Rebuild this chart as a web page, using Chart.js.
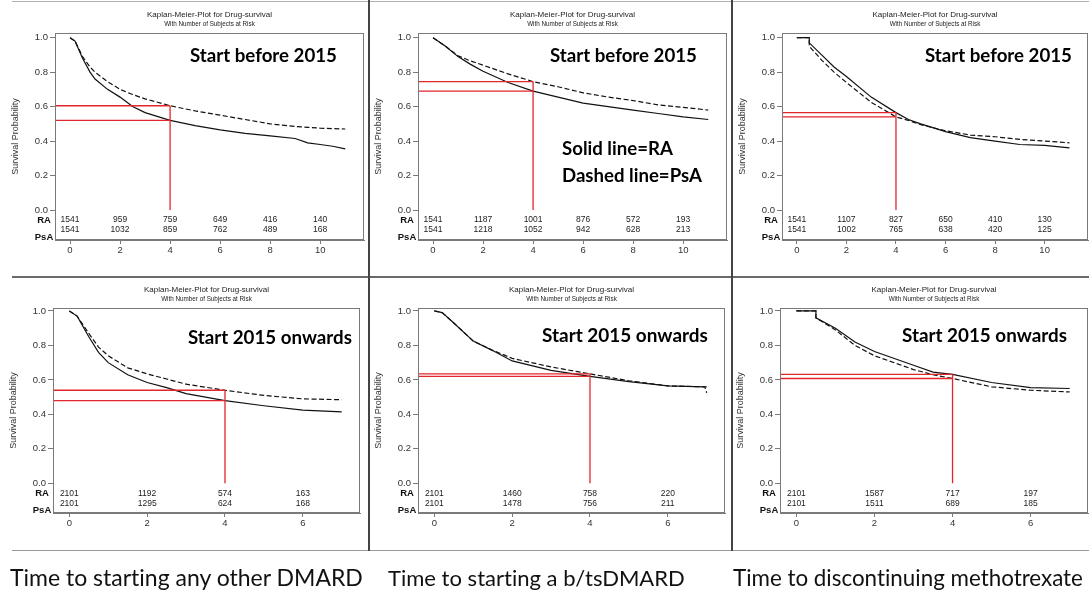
<!DOCTYPE html>
<html><head><meta charset="utf-8">
<script src="https://cdn.jsdelivr.net/npm/chart.js@4.4.1/dist/chart.umd.min.js"></script>
<style>
html,body{margin:0;padding:0;background:#fff;width:1089px;height:594px;overflow:hidden;position:relative;font-family:"Liberation Sans",Arial,sans-serif;}
canvas{position:absolute;}
.ttl{position:absolute;white-space:nowrap;color:#222;transform:translate(-50%,-50%);line-height:1;}
.big{position:absolute;white-space:nowrap;font-family:Lato,"Open Sans",sans-serif;font-weight:700;color:#000;line-height:1;transform:translateY(-50%);font-variant-ligatures:none;}
.cap{position:absolute;white-space:nowrap;font-family:Lato,"Open Sans",sans-serif;color:#111;line-height:1;transform:translateY(-50%);font-variant-ligatures:none;}
.sep{position:absolute;}
</style></head><body>
<script>
// ---------------- DATA ----------------
const xTicksTop = [0, 2, 4, 6, 8, 10];
const xTicksBottom = [0, 2, 4, 6];
const yTicks = [0, 0.2, 0.4, 0.6, 0.8, 1.0];
const riskTimesTop = [0, 2, 4, 6, 8, 10];
const riskTimesBottom = [0, 2, 4, 6];
const markTime = 4;

// Time to starting any other DMARD, start before 2015
const p1Time = [0, 0.2, 0.5, 0.8, 1, 1.5, 2, 2.5, 3, 4, 5, 6, 7, 8, 9, 9.5, 10, 10.5, 11];
const p1RA   = [1.0, 0.98, 0.88, 0.80, 0.76, 0.70, 0.655, 0.60, 0.565, 0.52, 0.49, 0.465, 0.445, 0.43, 0.415, 0.39, 0.38, 0.37, 0.355];
const p1PsA  = [1.0, 0.98, 0.89, 0.83, 0.80, 0.745, 0.70, 0.67, 0.645, 0.605, 0.575, 0.55, 0.525, 0.50, 0.485, 0.48, 0.475, 0.472, 0.47];
const p1RiskRA  = [1541, 959, 759, 649, 416, 140];
const p1RiskPsA = [1541, 1032, 859, 762, 489, 168];

// Time to starting a b/tsDMARD, start before 2015
const p2Time = [0, 0.5, 1, 1.5, 2, 3, 4, 5, 6, 7, 8, 9, 10, 11];
const p2RA   = [1.0, 0.95, 0.89, 0.845, 0.805, 0.74, 0.69, 0.655, 0.62, 0.60, 0.58, 0.56, 0.54, 0.525];
const p2PsA  = [1.0, 0.95, 0.895, 0.865, 0.84, 0.79, 0.745, 0.715, 0.68, 0.655, 0.635, 0.61, 0.595, 0.58];
const p2RiskRA  = [1541, 1187, 1001, 876, 572, 193];
const p2RiskPsA = [1541, 1218, 1052, 942, 628, 213];

// Time to discontinuing methotrexate, start before 2015
const p3Time = [0, 0.5, 0.5, 1, 1.5, 2, 3, 4, 4.5, 5, 6, 7, 8, 9, 10, 11];
const p3RA   = [1.0, 1.0, 0.97, 0.90, 0.83, 0.775, 0.655, 0.565, 0.525, 0.50, 0.455, 0.42, 0.40, 0.38, 0.375, 0.36];
const p3PsA  = [1.0, 1.0, 0.95, 0.87, 0.80, 0.74, 0.625, 0.54, 0.52, 0.495, 0.46, 0.435, 0.425, 0.41, 0.40, 0.39];
const p3RiskRA  = [1541, 1107, 827, 650, 410, 130];
const p3RiskPsA = [1541, 1002, 765, 638, 420, 125];

// Time to starting any other DMARD, start 2015 onwards
const p4Time = [0, 0.2, 0.5, 0.75, 1, 1.5, 2, 2.5, 3, 4, 5, 6, 7];
const p4RA   = [1.0, 0.97, 0.85, 0.76, 0.70, 0.63, 0.585, 0.555, 0.52, 0.48, 0.45, 0.425, 0.415];
const p4PsA  = [1.0, 0.97, 0.87, 0.79, 0.74, 0.67, 0.635, 0.605, 0.575, 0.54, 0.51, 0.49, 0.485];
const p4RiskRA  = [2101, 1192, 574, 163];
const p4RiskPsA = [2101, 1295, 624, 168];

// Time to starting a b/tsDMARD, start 2015 onwards
const p5Time = [0, 0.2, 0.5, 1, 1.5, 2, 3, 4, 5, 6, 6.95, 7.0];
const p5RA   = [1.0, 0.99, 0.93, 0.825, 0.77, 0.71, 0.655, 0.62, 0.59, 0.565, 0.56, 0.56];
const p5PsA  = [1.0, 0.99, 0.93, 0.825, 0.772, 0.725, 0.675, 0.635, 0.595, 0.565, 0.56, 0.525];
const p5RiskRA  = [2101, 1460, 758, 220];
const p5RiskPsA = [2101, 1478, 756, 211];

// Time to discontinuing methotrexate, start 2015 onwards
const p6Time = [0, 0.5, 0.5, 1, 1.5, 2, 3, 3.5, 4, 5, 6, 7];
const p6RA   = [1.0, 1.0, 0.96, 0.90, 0.82, 0.765, 0.685, 0.645, 0.632, 0.585, 0.555, 0.55];
const p6PsA  = [1.0, 1.0, 0.96, 0.89, 0.80, 0.74, 0.66, 0.63, 0.608, 0.56, 0.54, 0.53];
const p6RiskRA  = [2101, 1587, 717, 197];
const p6RiskPsA = [2101, 1511, 689, 185];

const panelTitle = 'Kaplan-Meier-Plot for Drug-survival';
const panelSubtitle = 'With Number of Subjects at Risk';
const yAxisTitle = 'Survival Probability';
const groupLabels = ['RA', 'PsA'];
const periodLabels = ['Start before 2015', 'Start 2015 onwards'];
const outcomeLabels = ['Time to starting any other DMARD', 'Time to starting a b/tsDMARD', 'Time to discontinuing methotrexate'];
const legendNotes = ['Solid line=RA', 'Dashed line=PsA'];

// ---------------- LAYOUT ----------------
const panels = [
  {box:[55,33,364,240],  xr:[-0.6,11.75], yr:[-0.174,1.027], t:p1Time, ra:p1RA, psa:p1PsA, rra:p1RiskRA, rpsa:p1RiskPsA, rt:riskTimesTop, xt:xTicksTop, note:[190,337,55], period:0},
  {box:[418,33,727,240], xr:[-0.6,11.75], yr:[-0.174,1.027], t:p2Time, ra:p2RA, psa:p2PsA, rra:p2RiskRA, rpsa:p2RiskPsA, rt:riskTimesTop, xt:xTicksTop, note:[550,697,55], period:0},
  {box:[782,33,1088,240],xr:[-0.6,11.75], yr:[-0.174,1.027], t:p3Time, ra:p3RA, psa:p3PsA, rra:p3RiskRA, rpsa:p3RiskPsA, rt:riskTimesTop, xt:xTicksTop, note:[925,1072,55], period:0},
  {box:[53,308,360,513], xr:[-0.42,7.47], yr:[-0.172,1.017], t:p4Time, ra:p4RA, psa:p4PsA, rra:p4RiskRA, rpsa:p4RiskPsA, rt:riskTimesBottom, xt:xTicksBottom, note:[188,352,337], period:1},
  {box:[418,308,725,513],xr:[-0.42,7.47], yr:[-0.172,1.017], t:p5Time, ra:p5RA, psa:p5PsA, rra:p5RiskRA, rpsa:p5RiskPsA, rt:riskTimesBottom, xt:xTicksBottom, note:[542,708,335], period:1},
  {box:[780,308,1088,513],xr:[-0.42,7.47], yr:[-0.172,1.017], t:p6Time, ra:p6RA, psa:p6PsA, rra:p6RiskRA, rpsa:p6RiskPsA, rt:riskTimesBottom, xt:xTicksBottom, note:[902,1067,335], period:1}
];
const AXW = 55, PADT = 33, PADR = 4, AXH = 37;

function addDiv(cls, text, css) {
  const d = document.createElement('div');
  d.className = cls; d.textContent = text;
  Object.assign(d.style, css);
  document.body.appendChild(d);
  return d;
}
function fitWidth(el, target) {
  el.style.fontSize = '20px';
  const w = el.getBoundingClientRect().width;
  const fs = 20 * target / w;
  el.style.fontSize = fs + 'px';
  return fs;
}
function line(x, y, w, h, c) {
  addDiv('sep', '', {left:x+'px', top:y+'px', width:w+'px', height:h+'px', background:c});
}

// separators
line(12, 1, 1077, 1, '#b0b0b0');
line(12, 276, 1077, 2, '#6a6a6a');
line(12, 550, 1077, 1, '#9a9a9a');
line(368, 0, 2, 551, '#444');
line(731, 0, 2, 551, '#444');

Chart.defaults.font.family = '"Liberation Sans", Arial, sans-serif';
Chart.defaults.color = '#333';

const kmPlugin = {
  id: 'km',
  afterDraw(chart) {
    const o = chart.options.plugins.km;
    const {ctx, chartArea: a, scales: {x, y}} = chart;
    ctx.save();
    ctx.strokeStyle = '#7a7a7a'; ctx.lineWidth = 1;
    ctx.strokeRect(Math.round(a.left) + 0.5, Math.round(a.top) + 0.5, Math.round(a.width) - 1, Math.round(a.height) - 1);
    const y0 = y.getPixelForValue(0);
    ctx.fillStyle = '#222';
    ctx.textAlign = 'center'; ctx.textBaseline = 'middle';
    ctx.font = '8.5px "Liberation Sans", Arial, sans-serif';
    o.times.forEach((t, i) => {
      const px = x.getPixelForValue(t);
      ctx.fillText(String(o.ra[i]), px, y0 + 10);
      ctx.fillText(String(o.psa[i]), px, y0 + 20);
    });
    ctx.font = 'bold 9.5px "Liberation Sans", Arial, sans-serif';
    ctx.fillStyle = '#111';
    ctx.fillText(groupLabels[0], a.left - 11, y0 + 10);
    ctx.fillText(groupLabels[1], a.left - 11, y0 + 27);
    ctx.restore();
  }
};

panels.forEach((p, k) => {
  const [bl, bt, br, bb] = p.box;
  const cv = document.createElement('canvas');
  const W = AXW + (br - bl) + PADR, H = PADT + (bb - bt) + AXH;
  cv.width = W; cv.height = H;
  Object.assign(cv.style, {left:(bl - AXW)+'px', top:(bt - PADT)+'px', width:W+'px', height:H+'px'});
  document.body.appendChild(cv);

  const i4 = p.t.indexOf(markTime);
  const vRA = p.ra[i4], vPsA = p.psa[i4];
  const xmin = p.xr[0];
  const pts = (ys) => p.t.map((t, i) => ({x: t, y: ys[i]}));
  const red = '#e3262c';

  new Chart(cv, {
    type: 'line',
    data: {datasets: [
      {data: [{x:xmin, y:vPsA}, {x:markTime, y:vPsA}], borderColor: red, borderWidth: 1.3, pointRadius: 0},
      {data: [{x:xmin, y:vRA}, {x:markTime, y:vRA}], borderColor: red, borderWidth: 1.3, pointRadius: 0},
      {data: [{x:markTime, y:Math.max(vRA, vPsA)}, {x:markTime, y:0}], borderColor: red, borderWidth: 1.3, pointRadius: 0},
      {label: groupLabels[0], data: pts(p.ra), borderColor: '#111', borderWidth: 1.2, pointRadius: 0, tension: 0},
      {label: groupLabels[1], data: pts(p.psa), borderColor: '#111', borderWidth: 1.2, borderDash: [5, 2.5], pointRadius: 0, tension: 0}
    ]},
    options: {
      responsive: false, animation: false, devicePixelRatio: 1,
      layout: {padding: {top: PADT, right: PADR, left: 0, bottom: 0}},
      plugins: {legend: {display: false}, tooltip: {enabled: false},
        km: {times: p.rt, ra: p.rra, psa: p.rpsa}},
      scales: {
        x: {type: 'linear', min: p.xr[0], max: p.xr[1],
          afterBuildTicks: s => { s.ticks = p.xt.map(v => ({value: v})); },
          afterFit: s => { s.height = AXH; },
          ticks: {font: {size: 9.5}, color: '#333', padding: 1, callback: v => String(v)},
          grid: {drawOnChartArea: false, tickLength: 4, color: '#7a7a7a'},
          border: {color: '#7a7a7a', width: 1}},
        y: {type: 'linear', min: p.yr[0], max: p.yr[1],
          afterBuildTicks: s => { s.ticks = yTicks.map(v => ({value: v})); },
          afterFit: s => { s.width = AXW; },
          ticks: {font: {size: 9.5}, color: '#333', padding: 2, callback: v => Number(v).toFixed(1)},
          grid: {drawOnChartArea: false, tickLength: 5, color: '#7a7a7a'},
          border: {color: '#7a7a7a', width: 1},
          title: {display: true, text: yAxisTitle, font: {size: 9}, color: '#333', padding: {top: 10.5, bottom: 0}}}
      }
    },
    plugins: [kmPlugin]
  });

  const cx = (bl + br) / 2;
  addDiv('ttl', panelTitle, {left: cx+'px', top: (bt - 18)+'px', fontSize: '8px'});
  addDiv('ttl', panelSubtitle, {left: cx+'px', top: (bt - 9.5)+'px', fontSize: '6.3px'});
  const n = addDiv('big', periodLabels[p.period], {left: p.note[0]+'px', top: p.note[2]+'px'});
  fitWidth(n, p.note[1] - p.note[0]);
});

const n1 = addDiv('big', legendNotes[0], {left: '562px', top: '148px'});
fitWidth(n1, 111);
const n2 = addDiv('big', legendNotes[1], {left: '562px', top: '175px'});
fitWidth(n2, 140);

const capPos = [[10, 363], [388, 685], [733, 1083]];
outcomeLabels.forEach((t, i) => {
  const c = addDiv('cap', t, {left: capPos[i][0]+'px', top: '578px'});
  fitWidth(c, capPos[i][1] - capPos[i][0]);
});
</script>
</body></html>
